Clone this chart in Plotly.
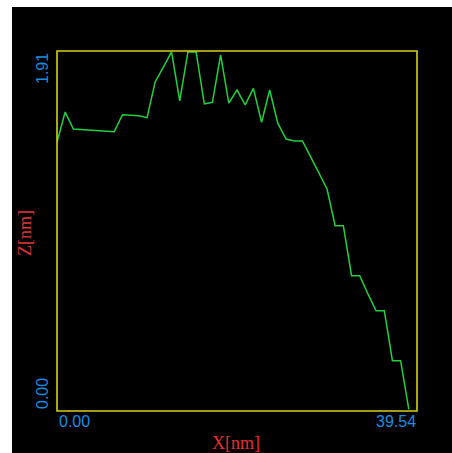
import plotly.graph_objects as go

x_nm = [0.00, 0.90, 1.80, 2.70, 3.59, 4.49, 5.39, 6.29, 7.19, 8.09, 8.99, 9.89,
        10.78, 11.68, 12.58, 13.48, 14.38, 15.28, 16.18, 17.07, 17.97, 18.87,
        19.77, 20.67, 21.57, 22.47, 23.36, 24.26, 25.16, 26.06, 26.96, 27.86,
        28.76, 29.66, 30.55, 31.45, 32.35, 33.25, 34.15, 35.05, 35.95, 36.84,
        37.74, 38.64]
z_nm = [1.427, 1.586, 1.496, 1.494, 1.491, 1.488, 1.484, 1.482, 1.572, 1.569,
        1.566, 1.556, 1.746, 1.825, 1.905, 1.645, 1.905, 1.905, 1.629, 1.638,
        1.889, 1.633, 1.703, 1.624, 1.712, 1.532, 1.703, 1.526, 1.443, 1.433,
        1.433, 1.348, 1.263, 1.178, 0.983, 0.983, 0.718, 0.718, 0.621, 0.532,
        0.532, 0.267, 0.267, 0.009]

x_range = [0.00, 39.54]
z_range = [0.00, 1.91]
x_tick_labels = ["0.00", "39.54"]
z_tick_labels = ["0.00", "1.91"]
x_title = "X[nm]"
z_title = "Z[nm]"

W, H = 452, 453
L, R, T, B = 57, 35, 51, 42
PW, PH = W - L - R, H - T - B


def px(p):
    return (p - L) / PW


def py(p):
    return (H - B - p) / PH


BLUE = "#1a8ce0"
RED = "#e03232"
YEL = "#d2d214"

fig = go.Figure()
fig.add_trace(go.Scatter(x=x_nm, y=z_nm, mode="lines",
                         line=dict(color="#22d040", width=1.5),
                         hoverinfo="skip", showlegend=False))

fig.update_xaxes(range=x_range, showgrid=False, zeroline=False,
                 showticklabels=False, ticks="", showline=False)
fig.update_yaxes(range=z_range, showgrid=False, zeroline=False,
                 showticklabels=False, ticks="", showline=False)

shapes = [
    # white strips left / top of black panel
    dict(type="rect", xref="paper", yref="paper", x0=px(-2), x1=px(12),
         y0=py(460), y1=py(-2), fillcolor="white", line=dict(width=0), layer="below"),
    dict(type="rect", xref="paper", yref="paper", x0=px(-2), x1=px(460),
         y0=py(7), y1=py(-2), fillcolor="white", line=dict(width=0), layer="below"),
    # yellow frame
    dict(type="rect", xref="paper", yref="paper", x0=0, x1=1, y0=0, y1=1,
         line=dict(color=YEL, width=1.6), layer="above"),
]

tick_font = dict(family="Liberation Sans, Arial, sans-serif", size=16, color=BLUE)
title_font = dict(family="Liberation Serif, Times New Roman, serif", size=18, color=RED)

annotations = [
    dict(text=x_tick_labels[0], x=px(57), y=py(411), xanchor="left", yanchor="top",
         showarrow=False, font=tick_font, xref="paper", yref="paper"),
    dict(text=x_tick_labels[1], x=px(418), y=py(411), xanchor="right", yanchor="top",
         showarrow=False, font=tick_font, xref="paper", yref="paper"),
    dict(text=z_tick_labels[0], x=px(53), y=py(411), xanchor="right", yanchor="bottom",
         showarrow=False, font=tick_font, textangle=-90, xref="paper", yref="paper"),
    dict(text=z_tick_labels[1], x=px(53), y=py(51), xanchor="right", yanchor="top",
         showarrow=False, font=tick_font, textangle=-90, xref="paper", yref="paper"),
    dict(text=x_title, x=px(236), y=py(443), xanchor="center", yanchor="middle",
         showarrow=False, font=title_font, xref="paper", yref="paper"),
    dict(text=z_title, x=px(25), y=py(233), xanchor="center", yanchor="middle",
         showarrow=False, font=title_font, textangle=-90, xref="paper", yref="paper"),
]

fig.update_layout(width=W, height=H, margin=dict(l=L, r=R, t=T, b=B, pad=0),
                  paper_bgcolor="black", plot_bgcolor="black",
                  shapes=shapes, annotations=annotations, showlegend=False)

fig.write_html("out.html",
               config={"displayModeBar": False, "staticPlot": True},
               post_script="document.body.style.margin='0';"
                           "document.body.style.overflow='hidden';")
